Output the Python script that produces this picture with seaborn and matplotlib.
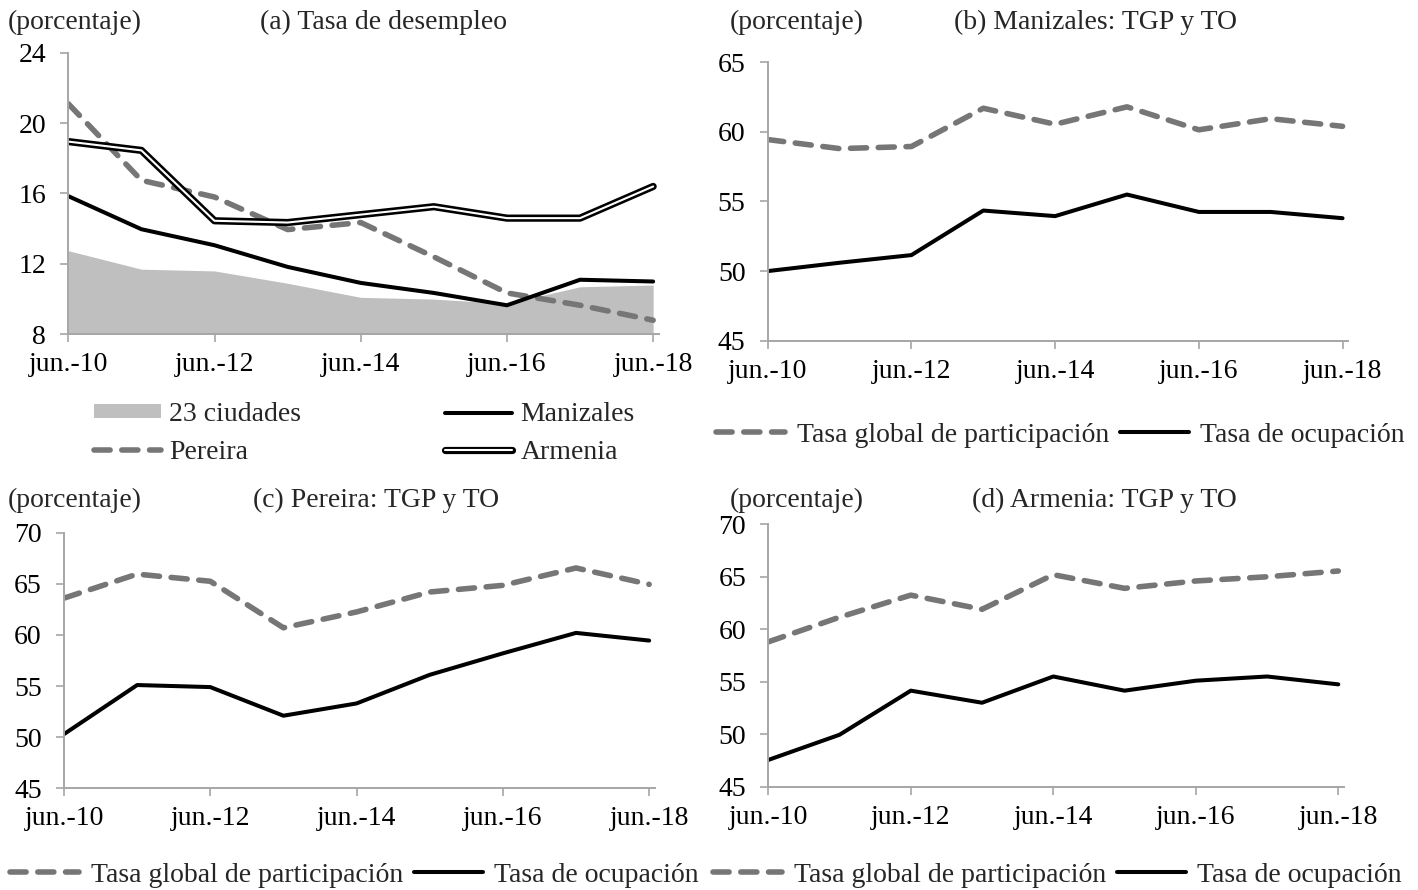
import matplotlib
matplotlib.use('Agg')
import matplotlib.pyplot as plt
import matplotlib.patheffects as pe
from matplotlib.patches import Patch
from matplotlib.lines import Line2D
import seaborn as sns

sns.set_theme(style='white')
plt.rcParams.update({
    'font.family':      ['Liberation Serif', 'DejaVu Serif'],
    'font.size':        20,
    'axes.edgecolor':   '#a6a6a6',
    'axes.linewidth':   1.4,
    'xtick.color':      '#a6a6a6',
    'ytick.color':      '#a6a6a6',
    'xtick.labelcolor': 'black',
    'ytick.labelcolor': 'black',
})

# ── Data ───────────────────────────────────────────────────────────────────────
years = [2010, 2011, 2012, 2013, 2014, 2015, 2016, 2017, 2018]
xtick_pos = [2010, 2012, 2014, 2016, 2018]
xtick_lab = ['jun.-10', 'jun.-12', 'jun.-14', 'jun.-16', 'jun.-18']

# (a) desempleo
td_23ciud = [12.75, 11.7, 11.6, 10.9, 10.1, 10.0, 9.75, 10.7, 10.8]
td_manizales = [15.85, 13.97, 13.06, 11.83, 10.92, 10.35, 9.65, 11.1, 11.0]
td_pereira = [21.1, 16.75, 15.8, 13.95, 14.35, 12.4, 10.35, 9.65, 8.8]
td_armenia = [18.95, 18.45, 14.45, 14.35, 14.8, 15.25, 14.6, 14.6, 16.4]

# (b) Manizales
tgp_manizales = [59.45, 58.8, 58.95, 61.7, 60.55, 61.8, 60.15, 60.95, 60.4]
to_manizales = [50.0, 50.6, 51.15, 54.35, 53.95, 55.5, 54.25, 54.25, 53.8]

# (c) Pereira
tgp_pereira = [63.6, 65.95, 65.25, 60.7, 62.25, 64.2, 64.85, 66.55, 64.95]
to_pereira = [50.3, 55.1, 54.9, 52.1, 53.3, 56.1, 58.2, 60.2, 59.45]

# (d) Armenia
tgp_armenia = [58.8, 61.15, 63.25, 61.9, 65.2, 63.9, 64.6, 65.0, 65.55]
to_armenia = [47.55, 49.95, 54.15, 53.0, 55.5, 54.15, 55.1, 55.5, 54.75]

GRAY_FILL = '#bfbfbf'
GRAY_DASH = '#767676'
DASH = (0, (2.9, 2.1))
DASH_LW = 4.0
FS = 20
W, H = 1418, 890

fig = plt.figure(figsize=(W / 100, H / 100), dpi=100)


def px_axes(x0, x1, ytop, ybot):
    return fig.add_axes([x0 / W, 1 - ybot / H, (x1 - x0) / W, (ybot - ytop) / H])


def style_axis(ax, ylim, yticks):
    ax.set_xlim(2010, 2018.08)
    ax.set_ylim(*ylim)
    ax.set_yticks(yticks)
    ax.set_xticks(xtick_pos)
    ax.set_xticklabels(xtick_lab)
    ax.set_xlabel('')
    ax.set_ylabel('')
    sns.despine(ax=ax)
    ax.tick_params(axis='x', direction='out', length=6, width=1.2, pad=7, labelsize=FS, bottom=True)
    ax.tick_params(axis='y', direction='out', length=6, width=1.2, pad=10, labelsize=FS, left=True)
    ax.patch.set_alpha(0)


def dash_line(**kw):
    return dict(color=GRAY_DASH, lw=DASH_LW, linestyle=DASH, dash_capstyle='round', **kw)


def tgp_to(ax, tgp, to):
    sns.lineplot(x=years, y=tgp, ax=ax, **dash_line())
    sns.lineplot(x=years, y=to, ax=ax, color='black', lw=2.9)


def tgp_to_legend(xleft, ycen):
    hs = [Line2D([], [], **dash_line()),
          Line2D([], [], color='black', lw=2.9)]
    fig.legend(hs, ['Tasa global de participación', 'Tasa de ocupación'],
               loc='center left', bbox_to_anchor=(xleft / W, 1 - ycen / H), ncol=2,
               frameon=False, fontsize=FS, handlelength=2.5, handletextpad=0.4,
               columnspacing=0.4, borderpad=0, borderaxespad=0)


# ── (a) Tasa de desempleo ──────────────────────────────────────────────────────
ax = px_axes(68.3, 659, 52.7, 334.3)
ax.fill_between(years, td_23ciud, 8, color=GRAY_FILL, lw=0)
sns.lineplot(x=years, y=td_pereira, ax=ax, **dash_line())
sns.lineplot(x=years, y=td_manizales, ax=ax, color='black', lw=2.9)
arm_fx = [pe.Stroke(linewidth=5.2, foreground='black'), pe.Normal()]
sns.lineplot(x=years, y=td_armenia, ax=ax, color='white', lw=1.5, path_effects=arm_fx)
style_axis(ax, (8, 24), [8, 12, 16, 20, 24])

hs = [Patch(color=GRAY_FILL, lw=0),
      Line2D([], [], **dash_line()),
      Line2D([], [], color='black', lw=2.9),
      Line2D([], [], color='white', lw=1.5, path_effects=arm_fx)]
fig.legend(hs, ['23 ciudades', 'Pereira', 'Manizales', 'Armenia'],
           loc='upper left', bbox_to_anchor=(94 / W, 1 - 402 / H), ncol=2,
           frameon=False, fontsize=FS, handlelength=2.4, handleheight=0.4,
           handletextpad=0.3, columnspacing=5.2, labelspacing=0.45,
           borderpad=0, borderaxespad=0)

fig.text(8 / W, 1 - 22 / H, '(porcentaje)', va='center', ha='left', fontsize=FS)
fig.text(383 / W, 1 - 22 / H, '(a) Tasa de desempleo', va='center', ha='center', fontsize=FS)

# ── (b) Manizales ──────────────────────────────────────────────────────────────
ax = px_axes(767.7, 1348.3, 62.3, 340.7)
tgp_to(ax, tgp_manizales, to_manizales)
style_axis(ax, (45, 65), [45, 50, 55, 60, 65])
tgp_to_legend(716, 435)
fig.text(730 / W, 1 - 22 / H, '(porcentaje)', va='center', ha='left', fontsize=FS)
fig.text(1095 / W, 1 - 22 / H, '(b) Manizales: TGP y TO', va='center', ha='center', fontsize=FS)

# ── (c) Pereira ────────────────────────────────────────────────────────────────
ax = px_axes(64, 655, 532.7, 788.3)
tgp_to(ax, tgp_pereira, to_pereira)
style_axis(ax, (45, 70), [45, 50, 55, 60, 65, 70])
tgp_to_legend(10, 875)
fig.text(8 / W, 1 - 500 / H, '(porcentaje)', va='center', ha='left', fontsize=FS)
fig.text(376 / W, 1 - 500 / H, '(c) Pereira: TGP y TO', va='center', ha='center', fontsize=FS)

# ── (d) Armenia ────────────────────────────────────────────────────────────────
ax = px_axes(768.3, 1344, 524.3, 786.7)
tgp_to(ax, tgp_armenia, to_armenia)
style_axis(ax, (45, 70), [45, 50, 55, 60, 65, 70])
tgp_to_legend(713, 875)
fig.text(730 / W, 1 - 500 / H, '(porcentaje)', va='center', ha='left', fontsize=FS)
fig.text(1104 / W, 1 - 500 / H, '(d) Armenia: TGP y TO', va='center', ha='center', fontsize=FS)

fig.savefig('out.png', dpi=100)
